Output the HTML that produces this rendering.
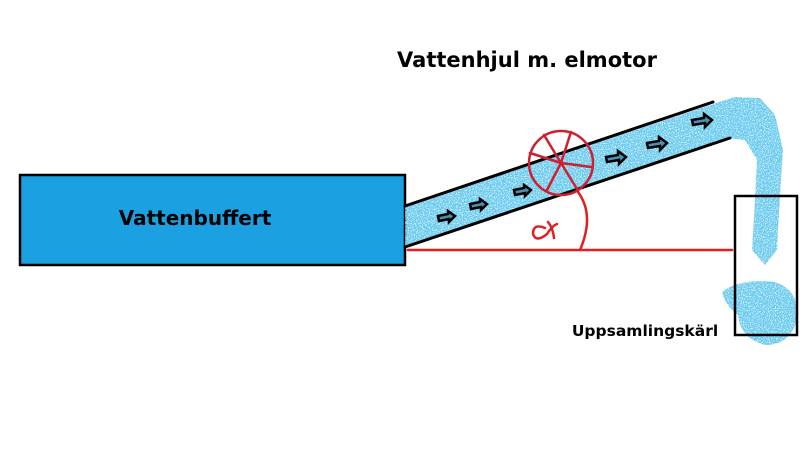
<!DOCTYPE html>
<html><head><style>
body{margin:0;background:#fff;width:800px;height:450px;overflow:hidden}
</style></head><body>
<svg width="800" height="450" xmlns="http://www.w3.org/2000/svg">
<defs>
<filter id="n"><feTurbulence type="fractalNoise" baseFrequency="0.85" numOctaves="2" seed="3"/><feColorMatrix values="0 0 0 0 0.15 0 0 0 0 0.6 0 0 0 0 0.85 0 0 0 4 -1.0"/><feComposite in2="SourceGraphic" operator="in"/></filter>
</defs>
<rect x="20" y="175" width="385" height="90" fill="#1ba1e2" stroke="#000" stroke-width="2.5"/>
<text x="195" y="225" font-family="DejaVu Sans, sans-serif" font-weight="bold" font-size="20" text-anchor="middle" fill="#000">Vattenbuffert</text>
<text x="527" y="67" font-family="DejaVu Sans, sans-serif" font-weight="bold" font-size="21" text-anchor="middle" fill="#000">Vattenhjul m. elmotor</text>
<g filter="url(#n)">
<polygon points="405,207 713,104 735,97 760,98 775,115 783,150 780,195 777,250 765,265 752,250 755,200 757,160 745,140 728,138 405,247" fill="#000"/>
<path d="M722,292 Q740,278 775,282 Q800,290 797,320 Q790,345 765,345 Q740,338 738,315 Q725,305 722,292z" fill="#000"/>
</g>
<g fill="none" stroke-linecap="round">
<line x1="405" y1="206" x2="713" y2="102" stroke="#000" stroke-width="3"/>
<line x1="405" y1="247" x2="730" y2="138" stroke="#000" stroke-width="3"/>
<line x1="408" y1="250" x2="732" y2="250" stroke="#e02020" stroke-width="2.5"/>
<path d="M578,192 Q595,215 580,250" stroke="#e02020" stroke-width="2.5"/>
<circle cx="561" cy="163" r="32" stroke="#d02030" stroke-width="2.5"/>
<path d="M561,163 L530,153 M561,163 L544,135 M561,163 L571,132 M561,163 L591,167 M561,163 L577,189 M561,163 L547,190" stroke="#d02030" stroke-width="2.5"/>
<path d="M545,228 q-12,-5 -12,6 q3,9 14,0 q5,-8 10,-10 M548,222 q5,6 6,16" stroke="#e02020" stroke-width="2.5"/>
<rect x="735" y="196" width="62" height="139" stroke="#000" stroke-width="2.5"/>
</g>
<g stroke="#000" stroke-width="2.5" fill="#4a90b0">
<path d="M438,216 l10,-2 v-3 l7,5 l-6,6 v-3 l-10,2z"/>
<path d="M470,204 l10,-2 v-3 l7,5 l-6,6 v-3 l-10,2z"/>
<path d="M514,190 l10,-2 v-3 l7,5 l-6,6 v-3 l-10,2z"/>
<path d="M606,157 l12,-2 v-4 l8,6 l-7,7 v-4 l-12,2z"/>
<path d="M647,143 l12,-2 v-4 l8,6 l-7,7 v-4 l-12,2z"/>
<path d="M692,120 l12,-2 v-4 l8,6 l-7,7 v-4 l-12,2z"/>
</g>
<text x="645" y="336" font-family="DejaVu Sans, sans-serif" font-weight="bold" font-size="15.5" text-anchor="middle" fill="#000">Uppsamlingskärl</text>
</svg>
</body></html>
